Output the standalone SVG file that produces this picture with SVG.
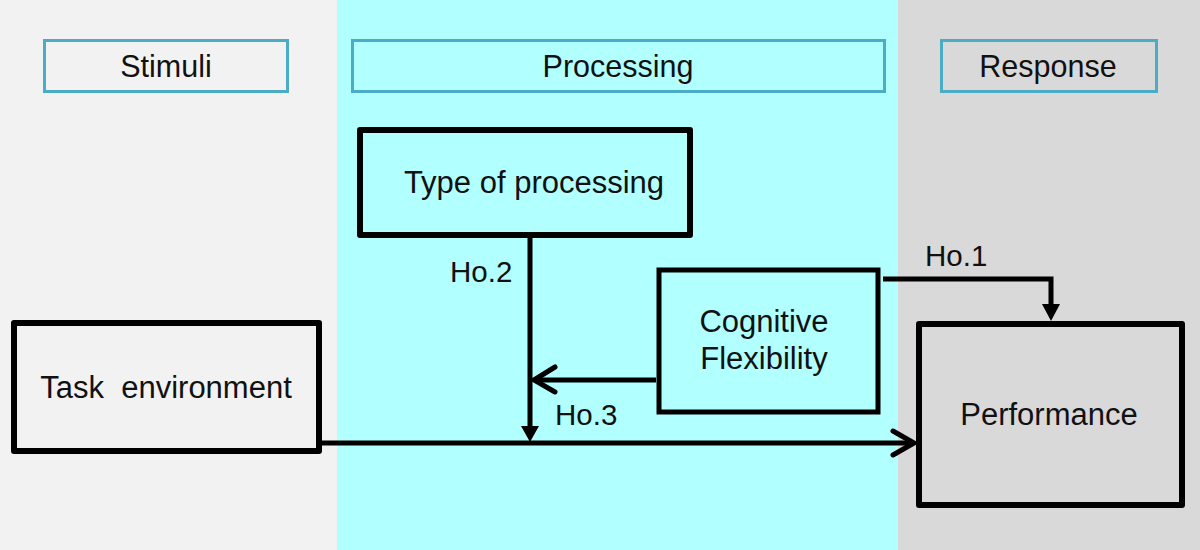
<svg xmlns="http://www.w3.org/2000/svg" width="1200" height="550" viewBox="0 0 1200 550">
<defs>
<style>
text{font-family:"Liberation Sans",Arial,sans-serif;font-size:31px;fill:#111}
.h{font-size:30.5px}
.lbl{font-size:29.5px}
.hdr{fill:none;stroke:#4bacc6;stroke-width:3}
.node{fill:none;stroke:#000;stroke-width:6;stroke-linejoin:round}
.con{fill:none;stroke:#000;stroke-width:5}
.chev{fill:none;stroke:#000;stroke-width:5;stroke-linecap:round;stroke-linejoin:miter}
.tri{fill:#000}
</style>
</defs>
<g id="background">
<rect x="0" y="0" width="337" height="550" fill="#f2f2f2"/>
<rect x="337" y="0" width="561" height="550" fill="#b2ffff"/>
<rect x="898" y="0" width="302" height="550" fill="#d9d9d9"/>
</g>
<g id="hdr-stimuli">
<rect class="hdr" x="44.5" y="40.5" width="243" height="51"/>
<text class="h" x="166" y="77" text-anchor="middle">Stimuli</text>
</g>
<g id="hdr-processing">
<rect class="hdr" x="352.5" y="40.5" width="532" height="51"/>
<text class="h" x="618" y="77" text-anchor="middle">Processing</text>
</g>
<g id="hdr-response">
<rect class="hdr" x="941.5" y="40.5" width="215" height="51"/>
<text class="h" x="1048" y="77" text-anchor="middle">Response</text>
</g>
<g id="connectors">
<path class="con" d="M322 443 H910"/>
<path class="chev" d="M893 431 L914 443 L893 455"/>
<path class="con" d="M530 238 V428"/>
<polygon class="tri" points="521,426 539,426 530,442"/>
<path class="con" d="M656 380 H535"/>
<path class="chev" d="M555 367 L534 380 L555 392"/>
<path class="con" d="M883 279 H1051 V306"/>
<polygon class="tri" points="1042,304 1060,304 1051,321"/>
<text class="lbl" x="450" y="282">Ho.2</text>
<text class="lbl" x="555" y="425">Ho.3</text>
<text class="lbl" x="925" y="266">Ho.1</text>
</g>
<g id="type-of-processing">
<rect class="node" x="360" y="130" width="330" height="105"/>
<text x="534" y="193" text-anchor="middle">Type of processing</text>
</g>
<g id="cognitive-flexibility">
<rect x="659" y="270" width="219" height="142" fill="none" stroke="#000" stroke-width="5"/>
<text x="764" y="332" text-anchor="middle">Cognitive</text>
<text x="764" y="369" text-anchor="middle">Flexibility</text>
</g>
<g id="task-environment">
<rect class="node" x="14" y="323" width="305" height="128"/>
<text x="166" y="398" text-anchor="middle" xml:space="preserve">Task  environment</text>
</g>
<g id="performance">
<rect class="node" x="919" y="324" width="263" height="181"/>
<text x="1049" y="425" text-anchor="middle">Performance</text>
</g>
</svg>
